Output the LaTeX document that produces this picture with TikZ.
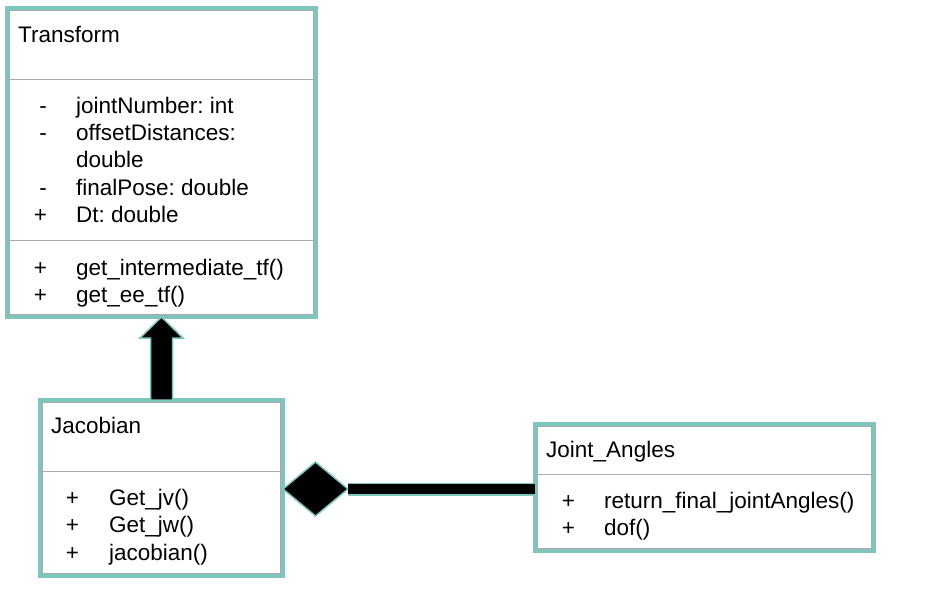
\documentclass[tikz,border=0pt]{standalone}
\usepackage{fontspec}
\setmainfont{Liberation Sans}
\usetikzlibrary{calc,shapes.geometric}
\definecolor{umlEdge}{HTML}{80C4BE}
\definecolor{umlRule}{HTML}{ABABAB}
\frenchspacing

\begin{document}
\begin{tikzpicture}[
  x=1pt, y=-1pt,
  every node/.style={font=\fontsize{22.5}{27}\selectfont, inner sep=0pt},
  classbox/.style={draw=umlEdge, line width=4pt, fill=white, outer sep=0pt},
  innerline/.style={draw=umlRule, line width=0.8pt},
  rule/.style={draw=umlRule, line width=1pt},
  member/.style={anchor=base west},
  vis/.style={anchor=base},
  inherit/.style={fill=black, draw=umlEdge, line width=1.5pt, line join=miter},
  aggr/.style={diamond, fill=black, draw=umlEdge, line width=1.5pt, outer sep=0pt,
               minimum width=65pt, minimum height=54pt},
  assoc/.style={draw=umlEdge, line width=1.5pt, double=black, double distance=10pt}
]
  \useasboundingbox (0,0) rectangle (926,606);

  % class boxes
  \node[classbox, minimum width=309pt, minimum height=309pt] (tf)  at (161.5,162.5) {};
  \node[classbox, minimum width=243pt, minimum height=176pt] (jac) at (161.5,488) {};
  \node[classbox, minimum width=339pt, minimum height=127pt] (jt)  at (704.5,487.5) {};

  \draw[innerline] ($(tf.north west)+(2.4,2.4)$)  rectangle ($(tf.south east)+(-2.4,-2.4)$);
  \draw[innerline] ($(jac.north west)+(2.4,2.4)$) rectangle ($(jac.south east)+(-2.4,-2.4)$);
  \draw[innerline] ($(jt.north west)+(2.4,2.4)$)  rectangle ($(jt.south east)+(-2.4,-2.4)$);

  \draw[rule] (tf.west |- 0,79)   -- (tf.east |- 0,79);
  \draw[rule] (tf.west |- 0,240)  -- (tf.east |- 0,240);
  \draw[rule] (jac.west |- 0,471) -- (jac.east |- 0,471);
  \draw[rule] (jt.west |- 0,474)  -- (jt.east |- 0,474);

  % Transform
  \node[member] (tfName) at (18,42) {Transform};
  \node[vis] at (43,113) {-};   \node[member] (tfA1) at (76,113) {jointNumber: int};
  \node[vis] at (43,140) {-};   \node[member] (tfA2) at (76,140) {offsetDistances:};
                                \node[member] (tfA3) at (76,167.5) {double};
  \node[vis] at (43,195) {-};   \node[member] (tfA4) at (76,195) {finalPose: double};
  \node[vis] at (40.5,222.5) {+}; \node[member] (tfA5) at (76,222.5) {Dt: double};
  \node[vis] at (40.5,275) {+}; \node[member] (tfM1) at (76,275) {get\_intermediate\_tf()};
  \node[vis] at (40.5,302) {+}; \node[member] (tfM2) at (76,302) {get\_ee\_tf()};

  % Jacobian
  \node[member] (jacName) at (51,433) {Jacobian};
  \node[vis] at (72.5,505) {+}; \node[member] (jacM1) at (109,505) {Get\_jv()};
  \node[vis] at (72.5,532) {+}; \node[member] (jacM2) at (109,532) {Get\_jw()};
  \node[vis] at (72.5,560) {+}; \node[member] (jacM3) at (109,560) {jacobian()};

  % Joint_Angles
  \node[member] (jtName) at (546,457) {Joint\_Angles};
  \node[vis] at (568.5,508) {+}; \node[member] (jtM1) at (604,508) {return\_final\_jointAngles()};
  \node[vis] at (568.5,535) {+}; \node[member] (jtM2) at (604,535) {dof()};

  % Jacobian -> Transform
  \draw[inherit] ($(jac.north)+(-11,0)$) -- ($(tf.south)+(-11,21)$)
    -- ($(tf.south)+(-21.5,21)$) -- (tf.south) -- ($(tf.south)+(21.5,21)$)
    -- ($(tf.south)+(11,21)$) -- ($(jac.north)+(11,0)$) -- cycle;

  % Joint_Angles <>- Jacobian
  \node[aggr, anchor=west] (agg) at ($(jac.east)+(0,1)$) {};
  \draw[assoc] (agg.east) -- (agg.east -| jt.west);
\end{tikzpicture}
\end{document}
